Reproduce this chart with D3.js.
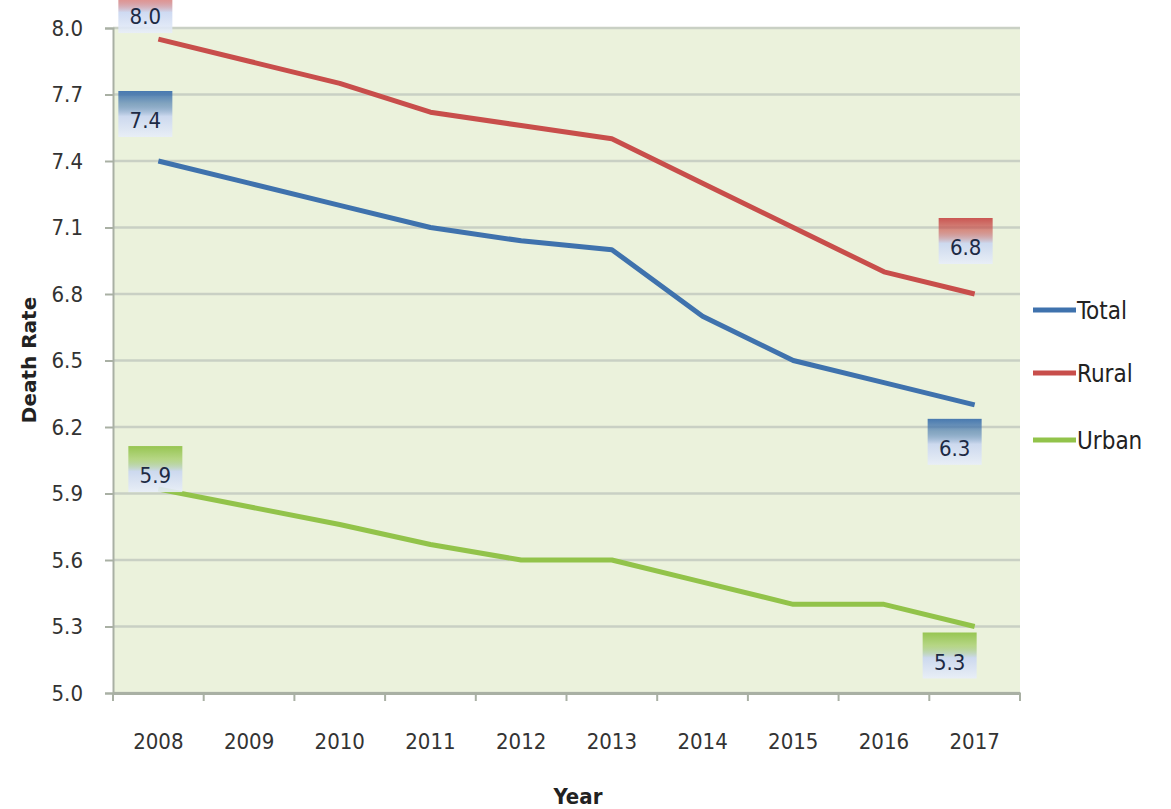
<!DOCTYPE html>
<html><head><meta charset="utf-8">
<script src="https://cdn.jsdelivr.net/npm/d3@7"></script>
<style>
html,body{margin:0;padding:0;background:#fff;}
text{font-family:"Liberation Sans Narrow","DejaVu Sans Condensed","Roboto Condensed",sans-serif;}
</style></head>
<body><svg id="c" width="1171" height="809"></svg>
<script>
const years = ["2008","2009","2010","2011","2012","2013","2014","2015","2016","2017"];
const totalValues = [7.40, 7.30, 7.20, 7.10, 7.04, 7.00, 6.70, 6.50, 6.40, 6.30];
const ruralValues = [7.95, 7.85, 7.75, 7.62, 7.56, 7.50, 7.30, 7.10, 6.90, 6.80];
const urbanValues = [5.92, 5.84, 5.76, 5.67, 5.60, 5.60, 5.50, 5.40, 5.40, 5.30];
const yTicks = [5.0, 5.3, 5.6, 5.9, 6.2, 6.5, 6.8, 7.1, 7.4, 7.7, 8.0];
const seriesNames = ["Total", "Rural", "Urban"];
const seriesColors = ["#3f72ad", "#c84e4b", "#92c34a"];
const endLabels = [["7.4","6.3"],["8.0","6.8"],["5.9","5.3"]];

const svg = d3.select("#c");
const L = 113, R = 1020, T = 28, B = 693;
const x = d3.scaleBand().domain(years).range([L, R]);
const y = d3.scaleLinear().domain([5.0, 8.0]).range([B, T]);

svg.append("rect").attr("x", L).attr("y", T).attr("width", R - L).attr("height", B - T).attr("fill", "#ebf2dc");

svg.append("g").selectAll("line").data(yTicks).join("line")
  .attr("x1", L).attr("x2", R).attr("y1", d => y(d)).attr("y2", d => y(d))
  .attr("stroke", "#c9d0c4").attr("stroke-width", 2.5);

const ya = svg.append("g").attr("transform", `translate(${L},0)`)
  .call(d3.axisLeft(y).tickValues(yTicks).tickFormat(d3.format(".1f")).tickSize(8).tickPadding(22));
ya.select(".domain").attr("stroke", "#a9b0a4").attr("stroke-width", 2);
ya.selectAll(".tick line").attr("stroke", "#a9b0a4").attr("stroke-width", 2);
ya.selectAll("text").attr("font-size", 22).attr("fill", "#333");

const xa = svg.append("g").attr("transform", `translate(0,${B})`)
  .call(d3.axisBottom(x).tickSize(0).tickPadding(40));
xa.select(".domain").attr("stroke", "#a9b0a4").attr("stroke-width", 3);
xa.selectAll("text").attr("font-size", 22).attr("fill", "#333");
svg.append("g").selectAll("line").data(years.concat(["end"])).join("line")
  .attr("x1", (d, i) => L + i * x.step()).attr("x2", (d, i) => L + i * x.step())
  .attr("y1", B).attr("y2", B + 8).attr("stroke", "#a9b0a4").attr("stroke-width", 2);

svg.append("text").attr("transform", "translate(36,360) rotate(-90)").attr("text-anchor", "middle")
  .attr("font-size", 20).attr("font-weight", "bold").attr("fill", "#222")
  .style("font-family", "'DejaVu Sans','Liberation Sans',sans-serif").text("Death Rate");
svg.append("text").attr("x", 578).attr("y", 804).attr("text-anchor", "middle")
  .attr("font-size", 22).attr("font-weight", "bold").attr("fill", "#222").text("Year");

const defs = svg.append("defs");
seriesColors.forEach((c, i) => {
  const g = defs.append("linearGradient").attr("id", "g" + i).attr("x1", 0).attr("x2", 0).attr("y1", 0).attr("y2", 1);
  g.append("stop").attr("offset", "0%").attr("stop-color", c).attr("stop-opacity", 0.95);
  g.append("stop").attr("offset", "28%").attr("stop-color", c).attr("stop-opacity", 0.6);
  g.append("stop").attr("offset", "55%").attr("stop-color", "#c9d6f0").attr("stop-opacity", 0.9);
  g.append("stop").attr("offset", "100%").attr("stop-color", "#e8eef9").attr("stop-opacity", 0.9);
});

const allValues = [totalValues, ruralValues, urbanValues];
const line = d3.line().x((d, i) => x(years[i]) + x.bandwidth() / 2).y(d => y(d));
allValues.forEach((vals, i) => {
  svg.append("path").datum(vals).attr("d", line).attr("fill", "none")
    .attr("stroke", seriesColors[i]).attr("stroke-width", 5).attr("stroke-linejoin", "round");
});

// data labels: [series, index, dx (center offset), box top offset from point]
const labelPos = [
  [0, 0, -13, -70], [0, 9, -20, 14],
  [1, 0, -13, -52], [1, 9, -9, -76],
  [2, 0, -3, -43], [2, 9, -25, 6]
];
labelPos.forEach(([s, idx, dx, dtop]) => {
  const cx = x(years[idx]) + x.bandwidth() / 2 + dx;
  const top = y(allValues[s][idx]) + dtop;
  const lbl = idx === 0 ? endLabels[s][0] : endLabels[s][1];
  svg.append("rect").attr("x", cx - 27).attr("y", top).attr("width", 54).attr("height", 46)
    .attr("fill", `url(#g${s})`);
  svg.append("text").attr("x", cx).attr("y", top + 37).attr("text-anchor", "middle")
    .attr("font-size", 22).attr("fill", "#1d2a44").text(lbl);
});

seriesNames.forEach((n, i) => {
  const ly = [310, 373, 440][i];
  svg.append("line").attr("x1", 1033).attr("x2", 1076).attr("y1", ly).attr("y2", ly)
    .attr("stroke", seriesColors[i]).attr("stroke-width", 5);
  svg.append("text").attr("x", 1077).attr("y", ly + 9).attr("font-size", 24).attr("fill", "#222").text(n);
});
</script></body></html>
